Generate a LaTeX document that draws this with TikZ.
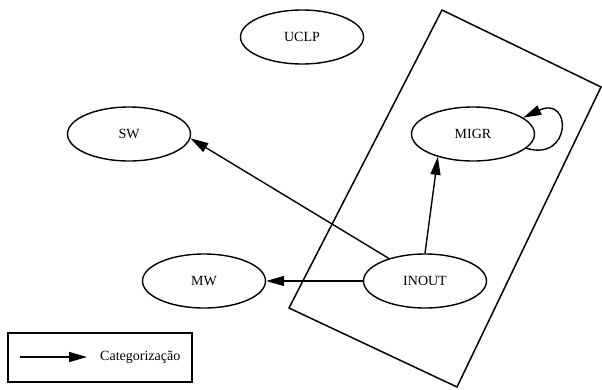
\documentclass[tikz,border=0pt]{standalone}
\usepackage{fontspec}
\setmainfont{Liberation Serif}
\usetikzlibrary{shapes.geometric,arrows.meta}
\begin{document}
\begin{tikzpicture}[x=1pt,y=-1pt,
  every node/.style={font=\fontsize{14}{16}\selectfont},
  st/.style={draw, ellipse, line width=1.4pt, minimum width=123pt, minimum height=54pt, inner sep=0pt},
  cat/.style={line width=1.4pt, -{Triangle[length=18pt,width=10pt]}},
  frame/.style={line width=1.5pt, line join=miter}]
\useasboundingbox (0,0) rectangle (602,389);
\node[st] (uclp) at (302,37) {UCLP};
\node[st] (sw) at (129,134) {SW};
\node[st] (migr) at (473,134) {MIGR};
\node[st] (mw) at (204,281) {MW};
\node[st] (inout) at (425,281) {INOUT};
\coordinate (r1) at (442,10);
\coordinate (r2) at (601,87);
\coordinate (r3) at (457,387);
\coordinate (r4) at (289,308);
\draw[frame] (r1) -- (r2) -- (r3) -- (r4) -- cycle;
\draw[cat] (inout.148) -- (sw.-4);
\draw[cat] (inout.90) -- (migr.-147);
\draw[cat] (inout.west) -- (mw.east);
\draw[cat] (migr.-15) .. controls (572,162) and (572,95) .. (migr.18);
\node[draw, line width=1.4pt, minimum width=184pt, minimum height=49pt, inner sep=0pt] (legbox) at (100,357.5) {};
\coordinate (la) at (20,357);
\coordinate (lb) at (87,357);
\node[anchor=west, inner sep=0pt] (lt) at (100,357) {Categorização};
\draw[cat] (la) -- (lb);
\end{tikzpicture}
\end{document}
